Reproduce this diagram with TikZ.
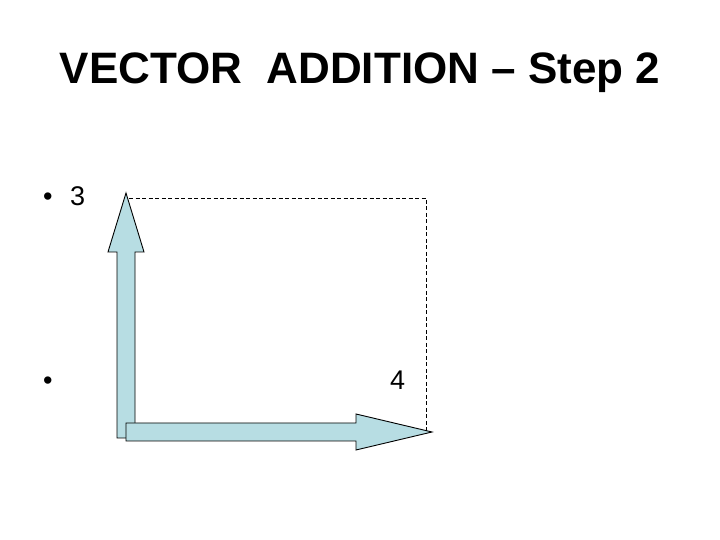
\documentclass[tikz,border=0pt]{standalone}
\usepackage{fontspec}
\setmainfont{Liberation Sans}
\definecolor{arrowblue}{RGB}{183,221,227}

\begin{document}
\begin{tikzpicture}[x=1pt,y=1pt,
  blockarrow/.style={draw=black, fill=arrowblue, line width=0.9pt, line join=miter},
  guide/.style={dashed, line width=0.7pt, dash pattern=on 4pt off 2.5pt},
  bullettext/.style={anchor=base west, inner sep=0, font=\fontsize{27}{32}\selectfont}]
\useasboundingbox (0,0) rectangle (720,540);
\node[anchor=base, inner sep=0, font=\fontsize{44}{50}\selectfont\bfseries] (title) at (360,456) {VECTOR\ \ ADDITION -- Step 2};
\node[bullettext] (dot1) at (43,334) {\textbullet};
\node[bullettext] (three) at (70,334) {3};
\node[bullettext] (dot2) at (43,150) {\textbullet};
\node[bullettext] (four) at (390,150) {4};
% vertical vector
\coordinate (up) at (126,347);
\filldraw[blockarrow] (117,102) -- (117,288) -- (108,288) -- (up) -- (144,288) -- (135,288) -- (135,102) -- cycle;
% horizontal vector
\coordinate (right) at (432,108);
\filldraw[blockarrow] (126,99) -- (126,117) -- (356,117) -- (356,126) -- (right) -- (356,90) -- (356,99) -- cycle;
% completing the rectangle
\coordinate (corner) at (426,342);
\draw[guide] (129,342) -- (corner) -- (corner |- right);
\end{tikzpicture}
\end{document}
